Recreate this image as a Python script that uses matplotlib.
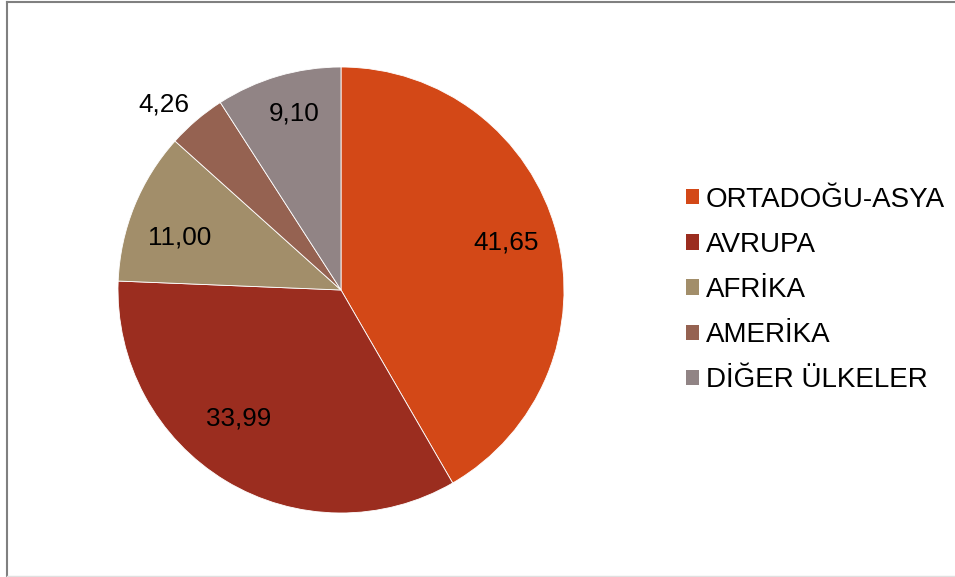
import matplotlib
matplotlib.use("Agg")
import matplotlib.pyplot as plt
import numpy as np
from matplotlib.lines import Line2D

plt.rcParams["font.family"] = ["Liberation Sans", "DejaVu Sans"]

regions = ["ORTADOĞU-ASYA", "AVRUPA", "AFRİKA", "AMERİKA", "DİĞER ÜLKELER"]
shares = [41.65, 33.99, 11.00, 4.26, 9.10]
value_labels = ["41,65", "33,99", "11,00", "4,26", "9,10"]
colors = ["#D34817", "#9B2D1F", "#A28E6A", "#956251", "#918485"]
# label placement: radius fraction and angular nudge (deg)
label_dist = [0.77, 0.735, 0.76, 1.15, 0.82]
label_nudge = [1, -7.5, 4, 3.3, -1.4]

W, H = 955, 577
fig = plt.figure(figsize=(W / 100, H / 100), dpi=100)

cx, cy, r = 341, 290, 223
ax = fig.add_axes([(cx - r) / W, (H - cy - r) / H, 2 * r / W, 2 * r / H])
wedges, _ = ax.pie(shares, colors=colors, startangle=90, counterclock=False,
                   wedgeprops=dict(edgecolor="white", linewidth=0.6))
ax.set_xlim(-1, 1)
ax.set_ylim(-1, 1)
ax.set_aspect("equal")

for w, txt, d, n in zip(wedges, value_labels, label_dist, label_nudge):
    mid = np.deg2rad((w.theta1 + w.theta2) / 2 + n)
    ax.text(d * np.cos(mid), d * np.sin(mid), txt, ha="center", va="center",
            fontsize=18.8, color="black")

leg = fig.legend(wedges, regions, loc="center left",
                 bbox_to_anchor=(686 / W, 1 - 290 / H), frameon=False,
                 fontsize=20, handlelength=0.47, handleheight=0.47,
                 handletextpad=0.25, labelspacing=0.69, borderpad=0,
                 borderaxespad=0)
for h in leg.legend_handles:
    h.set_edgecolor("none")

# chart frame
fig.add_artist(Line2D([7 / W, 1], [1 - 1.5 / H, 1 - 1.5 / H], transform=fig.transFigure,
                      color="#808080", linewidth=1.5))
fig.add_artist(Line2D([7 / W, 7 / W], [1 - 1.5 / H, 1 - 575.5 / H], transform=fig.transFigure,
                      color="#808080", linewidth=1.5))
fig.add_artist(Line2D([7 / W, 1], [1 - 575.5 / H, 1 - 575.5 / H], transform=fig.transFigure,
                      color="#E0E0E0", linewidth=1.0))

fig.savefig("out.png", dpi=100)
